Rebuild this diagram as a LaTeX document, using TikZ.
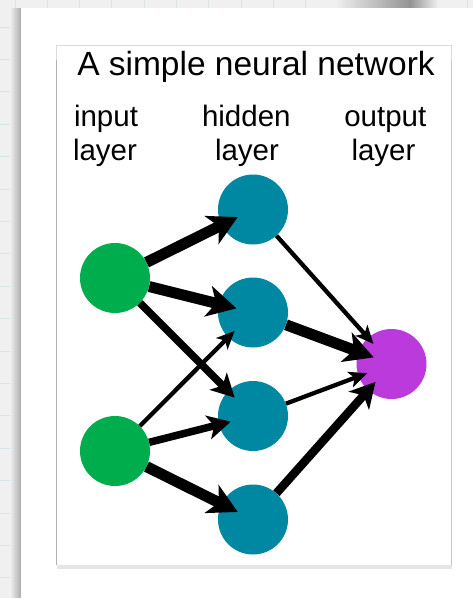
\documentclass[tikz,border=0pt]{standalone}
\usepackage{fontspec}
\setmainfont{Liberation Sans}
\usetikzlibrary{arrows.meta,calc}
\definecolor{bgcol}{RGB}{240,240,240}
\definecolor{gridcol}{RGB}{214,229,236}
\definecolor{ingreen}{RGB}{0,173,77}
\definecolor{hidteal}{RGB}{0,135,162}
\definecolor{outpurple}{RGB}{186,58,219}
\begin{document}
\begin{tikzpicture}[x=1pt,y=-1pt,
  neuron/.style={circle,minimum size=70pt,inner sep=0pt,draw=none},
  titletext/.style={anchor=base,inner sep=0pt,font=\fontsize{33.5}{40}\selectfont},
  lbl/.style={anchor=base,inner sep=0pt,font=\fontsize{29.5}{34}\selectfont},
  thickarr/.style={line width=11pt,-{Stealth[length=29pt,width=31pt,inset=8pt]}},
  medarr/.style={line width=7.5pt,-{Stealth[length=23pt,width=24pt,inset=6pt]}},
  thinarr/.style={line width=4.3pt,-{Stealth[length=18pt,width=16pt,inset=4.5pt]}}]
\useasboundingbox (0,0) rectangle (473,598);
% background with grid
\fill[bgcol] (0,0) rectangle (473,598);
\foreach \k in {0,...,18} {\draw[gridcol,line width=1pt] (0,27+32.4*\k) -- (473,27+32.4*\k);}
\foreach \k in {0,...,14} {\draw[gridcol,line width=1pt] (15+32.3*\k,0) -- (15+32.3*\k,598);}
% card and shadows
\shade[left color=bgcol,right color=black!30] (10,8) rectangle (20,598);
\shade[left color=bgcol,right color=black!42] (335,0) rectangle (410,8);
\shade[left color=black!42,right color=bgcol] (410,0) rectangle (438,8);
\fill[white] (20,8) rectangle (473,598);
\draw[black!32,line width=1pt] (20.5,8) -- (20.5,598);
% inner frame
\fill[black!10] (57,565) rectangle (452,569);
\fill[white] (56,45) rectangle (451,565);
\draw[black!14,line width=1pt] (56,565) -- (56,45) -- (451,45) -- (451,565);
\draw[black!30,line width=1pt] (56,60) -- (56,565);
\draw[black!22,line width=1pt] (451,60) -- (451,565);
% texts
\node[titletext] (title) at (256,75) {A simple neural network};
\node[lbl] (inlA) at (106,126) {input};
\node[lbl] (inlB) at (105,160) {layer};
\node[lbl] (hidA) at (246.3,126) {hidden};
\node[lbl] (hidB) at (247,160) {layer};
\node[lbl] (outA) at (385.3,126) {output};
\node[lbl] (outB) at (383.5,160) {layer};
% neurons
\node[neuron,fill=ingreen] (in1) at (115,278) {};
\node[neuron,fill=ingreen] (in2) at (115,451) {};
\node[neuron,fill=hidteal] (h1) at (253,209.5) {};
\node[neuron,fill=hidteal] (h2) at (253,312.5) {};
\node[neuron,fill=hidteal] (h3) at (253,416) {};
\node[neuron,fill=hidteal] (h4) at (253,519.5) {};
\node[neuron,fill=outpurple] (out) at (391.5,364) {};
% connections
\draw[thinarr] (in2) -- ($(h2)!26pt!(in2)$);
\draw[thickarr] (in1) -- ($(h1)!17pt!(in1)$);
\draw[thickarr] (in1) -- ($(h2)!17pt!(in1)$);
\draw[medarr] (in1) -- ($(h3)!26pt!(in1)$);
\draw[medarr] (in2) -- ($(h3)!23pt!(in2)$);
\draw[thickarr] (in2) -- ($(h4)!17pt!(in2)$);
\draw[thinarr] (h1) -- ($(out)!27pt!(h1)$);
\draw[thickarr] (h2) -- ($(out)!19pt!(h2)$);
\draw[thinarr] (h3) -- ($(out)!26pt!(h3)$);
\draw[line width=8.5pt,-{Stealth[length=25pt,width=27pt,inset=7pt]}] (h4) -- ($(out)!24pt!(h4)$);
\end{tikzpicture}
\end{document}
